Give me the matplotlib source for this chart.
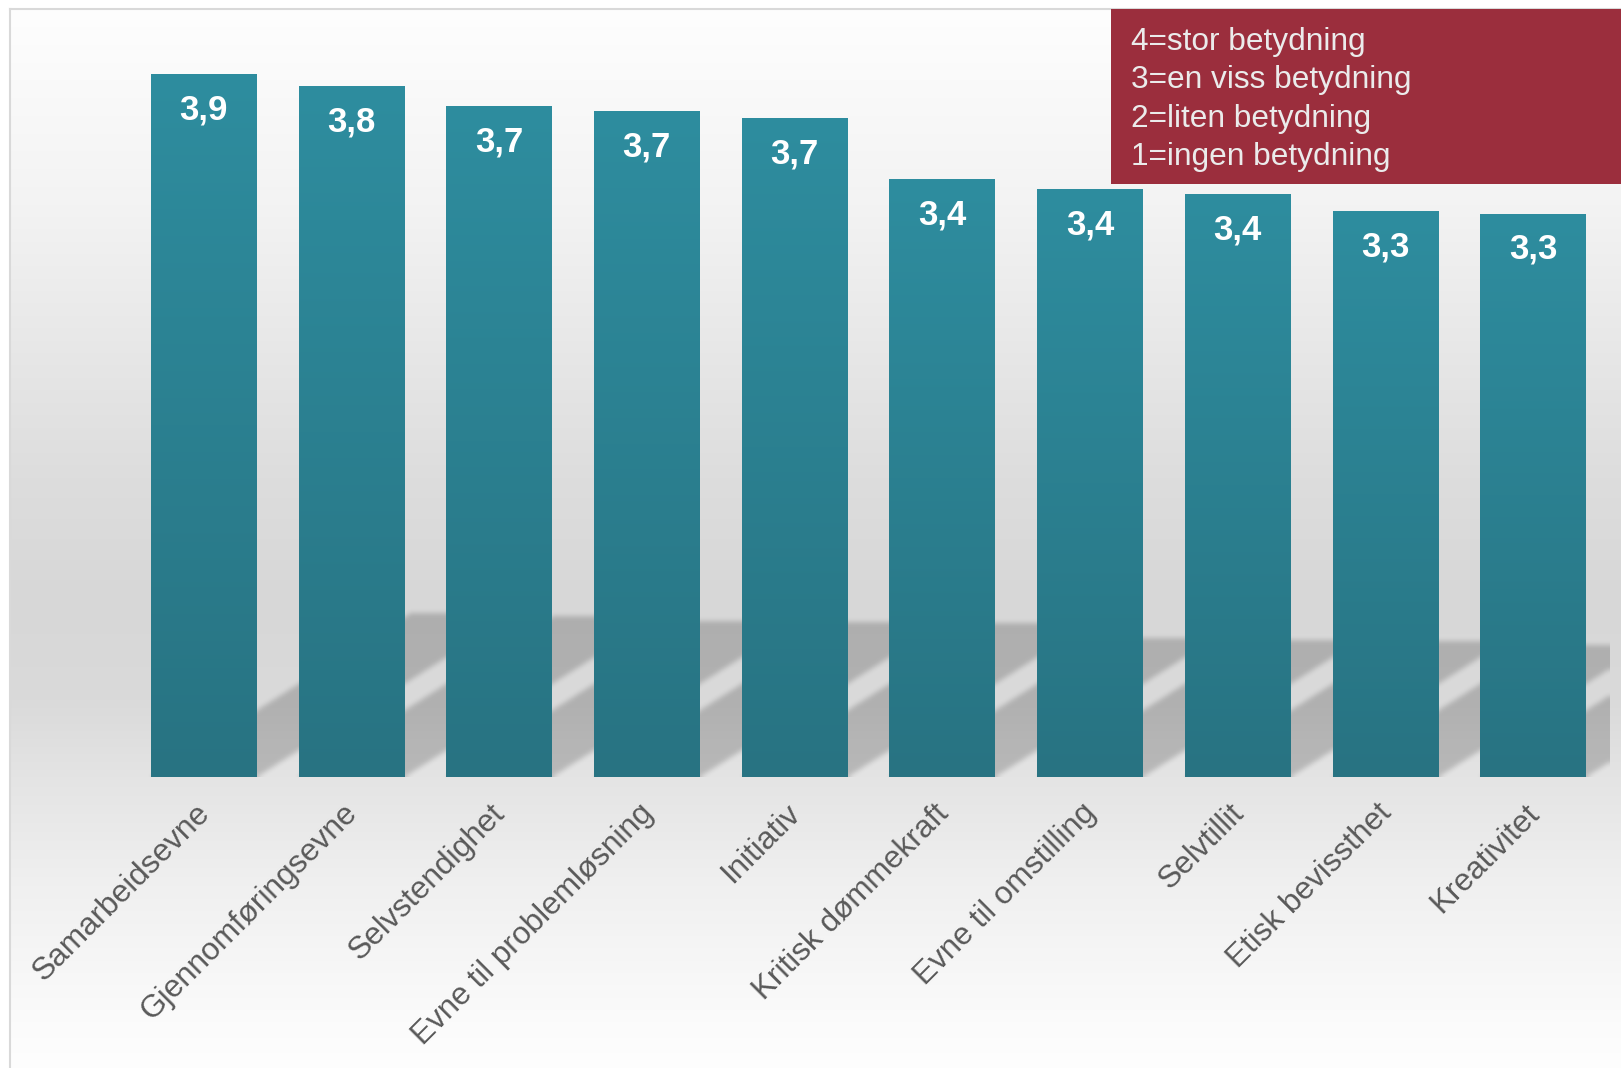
import numpy as np
import matplotlib.pyplot as plt
import matplotlib.transforms as mtransforms
from matplotlib.colors import LinearSegmentedColormap
from matplotlib.patches import Rectangle

plt.rcParams['font.family'] = ['Liberation Sans', 'DejaVu Sans']

# --- data ---
categories = [
    "Samarbeidsevne", "Gjennomføringsevne", "Selvstendighet",
    "Evne til problemløsning", "Initiativ", "Kritisk dømmekraft",
    "Evne til omstilling", "Selvtillit", "Etisk bevissthet", "Kreativitet",
]
scores = [3.87, 3.82, 3.74, 3.72, 3.69, 3.44, 3.40, 3.38, 3.31, 3.30]
scale_text = [
    "4=stor betydning",
    "3=en viss betydning",
    "2=liten betydning",
    "1=ingen betydning",
]


def _box(a, r, axis):
    """Box blur along one axis (edge padded)."""
    a = np.moveaxis(a, axis, 0)
    p = np.pad(a, ((r + 1, r),) + ((0, 0),) * (a.ndim - 1), mode="edge")
    c = np.cumsum(p, axis=0)
    out = (c[2 * r + 1:] - c[:-2 * r - 1]) / (2 * r + 1)
    return np.moveaxis(out, 0, axis)


W, H = 1621, 1068
fig = plt.figure(figsize=(W / 100, H / 100), dpi=100)
fig.patch.set_facecolor("white")

# --- background (pixel coords) ---
bg = fig.add_axes([0, 0, 1, 1])
bg.set_xlim(0, W)
bg.set_ylim(H, 0)
bg.axis("off")

# chart area: white -> grey -> white
stops_y = [9, 204, 340, 477, 600, 700, 777, 886, 1022, 1068]
stops_v = [254, 243, 232, 221, 215, 218, 228, 240, 251, 254]
col = np.interp(np.arange(9, H), stops_y, stops_v) / 255
chart_img = np.repeat(col[:, None], 3, axis=1)[:, None, :]
bg.imshow(chart_img, extent=[10, W, H, 9], aspect="auto", interpolation="nearest", zorder=0)
bg.plot([10, 10], [H, 9], color="#d9d9d9", lw=1.5, zorder=1)
bg.plot([10, W], [9, 9], color="#d9d9d9", lw=1.5, zorder=1)

# scale box (top right)
bg.add_patch(Rectangle((1111, 9), W - 1111, 175, fc="#9B2E3D", ec="none", zorder=3))
for i, line in enumerate(scale_text):
    bg.text(1131, 50 + i * 38.3, line, fontsize=22.8, color="#ebebeb", va="baseline", zorder=4)

# --- main axes ---
L, R, T, B = 10, 1610, 10, 777
px_x, px_y = 147.7, 245.0
ax = fig.add_axes([L / W, 1 - B / H, (R - L) / W, (B - T) / H])
ax.patch.set_alpha(0)
x0 = -(203.7 - L) / px_x
x1 = x0 + (R - L) / px_x
y0 = 1.0
y1 = 1 + (B - T) / px_y

x = np.arange(len(categories))
vals = np.array(scores)
bw = 0.714

# perspective shadow behind the bars
shear = px_y / (0.63 * px_x)
nrows, ncols = B - T, R - L
xs = x0 + (np.arange(ncols) + 0.5) / px_x
ys = y1 - (np.arange(nrows) + 0.5) / px_y
XX, YY = np.meshgrid(xs, ys)
mask = np.zeros((nrows, ncols))
for xi, v in zip(x, vals):
    sh = 0.233 * (v - 1)
    yp = YY - 1
    shift = yp * shear
    inside = (yp >= 0) & (yp <= sh) & (XX >= xi - bw / 2 + shift) & (XX <= xi + bw / 2 + shift)
    mask[inside] = 1.0
for _ in range(3):
    mask = _box(mask, 2, 0)
    mask = _box(mask, 2, 1)
shadow = np.zeros((nrows, ncols, 4))
shadow[..., 3] = 0.19 * mask
ax.imshow(shadow, extent=[x0, x1, y0, y1], aspect="auto", interpolation="nearest", zorder=1)

# bars with vertical gradient
bars = ax.bar(x, vals - 1, bottom=1, width=bw, color="#2B8090", zorder=2)
teal = LinearSegmentedColormap.from_list("teal", ["#287382", "#2E8D9F"])
g = np.linspace(0, 1, 256)[:, None]
for b in bars:
    bx, by = b.get_x(), b.get_y()
    im = ax.imshow(g, cmap=teal, origin="lower", aspect="auto", zorder=3,
                   extent=[bx, bx + b.get_width(), by, by + b.get_height()])
    im.set_clip_path(b)

for xi, v in zip(x, vals):
    ax.annotate(f"{v:.1f}".replace(".", ","), (xi, v), xytext=(0, -14),
                textcoords="offset points", ha="center", va="top",
                color="white", fontsize=25, fontweight="bold", zorder=4)

# category labels, rotated, ending just below each bar
lab_tr = ax.get_xaxis_transform() + mtransforms.ScaledTranslation(-9 / 100, -21 / 100, fig.dpi_scale_trans)
for xi, name in zip(x, categories):
    ax.text(xi, 0, name, transform=lab_tr, rotation=45, ha="right", va="top",
            rotation_mode="anchor", fontsize=22.7, color="#595959", clip_on=False)

ax.set_xticks([])
ax.set_yticks([])
for s in ax.spines.values():
    s.set_visible(False)
ax.set_xlim(x0, x1)
ax.set_ylim(y0, y1)

fig.savefig("out.png", dpi=100)
